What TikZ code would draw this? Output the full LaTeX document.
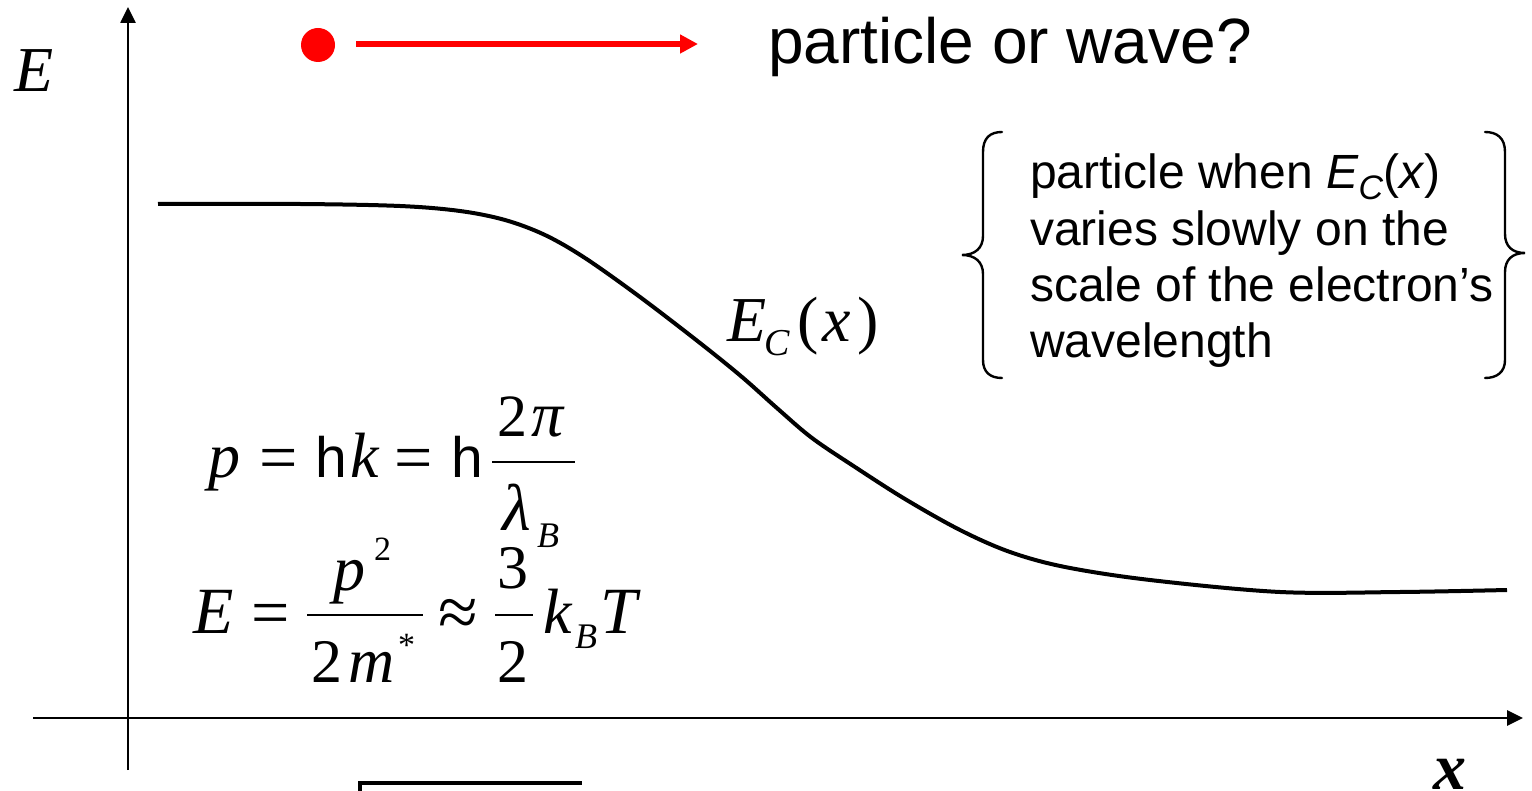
\documentclass[tikz,border=0pt]{standalone}
\usepackage{fontspec}
\setmainfont{Liberation Sans}
\newfontfamily\tnr{Liberation Serif}
\usetikzlibrary{arrows.meta}
\newcommand\setfs[1]{\fontsize{#1}{#1}\selectfont}
\begin{document}
\begin{tikzpicture}[x=1pt,y=-1pt,
  txt/.style={inner sep=0pt, outer sep=0pt, anchor=base west},
  axis/.style={line width=2.6pt, -{Triangle[length=16pt,width=15pt]}},
  brace/.style={line width=2.4pt, line cap=round},
  serif/.style={txt, font=\tnr\itshape\setfs{#1}},
  serifup/.style={txt, font=\tnr\setfs{#1}},
  sans/.style={txt, font=\setfs{#1}}]
\useasboundingbox (0,0) rectangle (1532,791);
% axes
\coordinate (ybot) at (128,770);
\coordinate (ytop) at (128,7);
\coordinate (xleft) at (33,718);
\coordinate (xright) at (1523,718);
\draw[axis] (ybot) -- (ytop);
\draw[axis] (xleft) -- (xright);
\node[serif=64] (Elab) at (14,92) {E};
\node[txt, font=\tnr\bfseries\itshape\setfs{66}] (xlab) at (1433,789) {x};
% particle
\fill[red] (318,45) circle (17);
\coordinate (ra) at (356,44);
\coordinate (rb) at (698,44);
\draw[red, line width=6pt, -{Triangle[length=18pt,width=18pt]}] (ra) -- (rb);
\node[sans=64] (title) at (768,64) {particle or wave?};
% curve
\draw[line width=4pt, line join=round] plot[smooth, tension=0.55] coordinates {
 (158,204) (300,204) (400,206) (460,211) (505,220) (545,235) (585,258)
 (640,297) (700,343) (742,377) (778,409) (812,438) (855,467) (905,499)
 (960,530) (1010,552) (1065,567) (1150,580) (1280,592) (1400,592) (1507,590)};
% E_C(x)
\node[serif=64] (ec1) at (727,342) {E};
\node[serif=38] (ec2) at (764,356) {C};
\node[serifup=64] (ec3) at (797,342) {(};
\node[serif=64] (ec4) at (822,342) {x};
\node[serifup=64] (ec5) at (857,342) {)};
% braces and text
\draw[brace] (1002,132) .. controls (990,132) and (983,138) .. (983,152) -- (983,236)
  .. controls (983,248) and (975,255) .. (962,255)
  .. controls (975,255) and (983,262) .. (983,274) -- (983,360)
  .. controls (983,372) and (990,378) .. (1002,378);
\draw[brace] (1485,132) .. controls (1497,132) and (1505,138) .. (1505,152) -- (1505,234)
  .. controls (1505,246) and (1512,253) .. (1525,253)
  .. controls (1512,253) and (1505,260) .. (1505,272) -- (1505,360)
  .. controls (1505,372) and (1497,378) .. (1485,378);
\node[sans=48] (l1) at (1030,189) {particle when \textit{E}\raisebox{-0.22em}{\setfs{34}\textit{C}}(\textit{x})};
\node[sans=48] (l2) at (1030,246) {varies slowly on the};
\node[sans=48] (l3) at (1030,302) {scale of the electron’s};
\node[sans=48] (l4) at (1030,358) {wavelength};
% equation 1
\node[serif=64] (a1) at (208,478) {p};
\node[serifup=68] (a2) at (259,480) {=};
\node[sans=57] (a3) at (315,478) {h};
\node[serif=64] (a4) at (350,478) {k};
\node[serifup=68] (a5) at (394,480) {=};
\node[sans=57] (a6) at (451,478) {h};
\coordinate (f1a) at (492,462);
\coordinate (f1b) at (575,462);
\draw[line width=2.6pt] (f1a) -- (f1b);
\node[serifup=60] (a7) at (497,437) {2};
\node[serif=64] (a8) at (531,437) {π};
\node[serif=66] (a9) at (502,530) {λ};
\node[serif=36] (a10) at (537,547) {B};
% equation 2
\node[serif=66] (b1) at (193,633) {E};
\node[serifup=68] (b2) at (251,635) {=};
\coordinate (f2a) at (307,615);
\coordinate (f2b) at (423,615);
\draw[line width=2.6pt] (f2a) -- (f2b);
\node[serif=64] (b3) at (333,590) {p};
\node[serifup=34] (b4) at (374,560) {2};
\node[serifup=62] (b5) at (311,682) {2};
\node[serif=64] (b6) at (348,682) {m};
\node[serifup=34] (b7) at (398,656) {*};
\node[serifup=72] (b8) at (438,636) {≈};
\coordinate (f3a) at (495,615);
\coordinate (f3b) at (533,615);
\draw[line width=2.6pt] (f3a) -- (f3b);
\node[serifup=62] (b9) at (497,588) {3};
\node[serifup=62] (b10) at (497,682) {2};
\node[serif=64] (b11) at (543,633) {k};
\node[serif=36] (b12) at (575,648) {B};
\node[serif=66] (b13) at (600,633) {T};
% partial radical at bottom
\coordinate (s1) at (360,795);
\coordinate (s2) at (360,783);
\coordinate (s3) at (582,783);
\draw[line width=4pt] (s1) -- (s2) -- (s3);
\end{tikzpicture}
\end{document}
